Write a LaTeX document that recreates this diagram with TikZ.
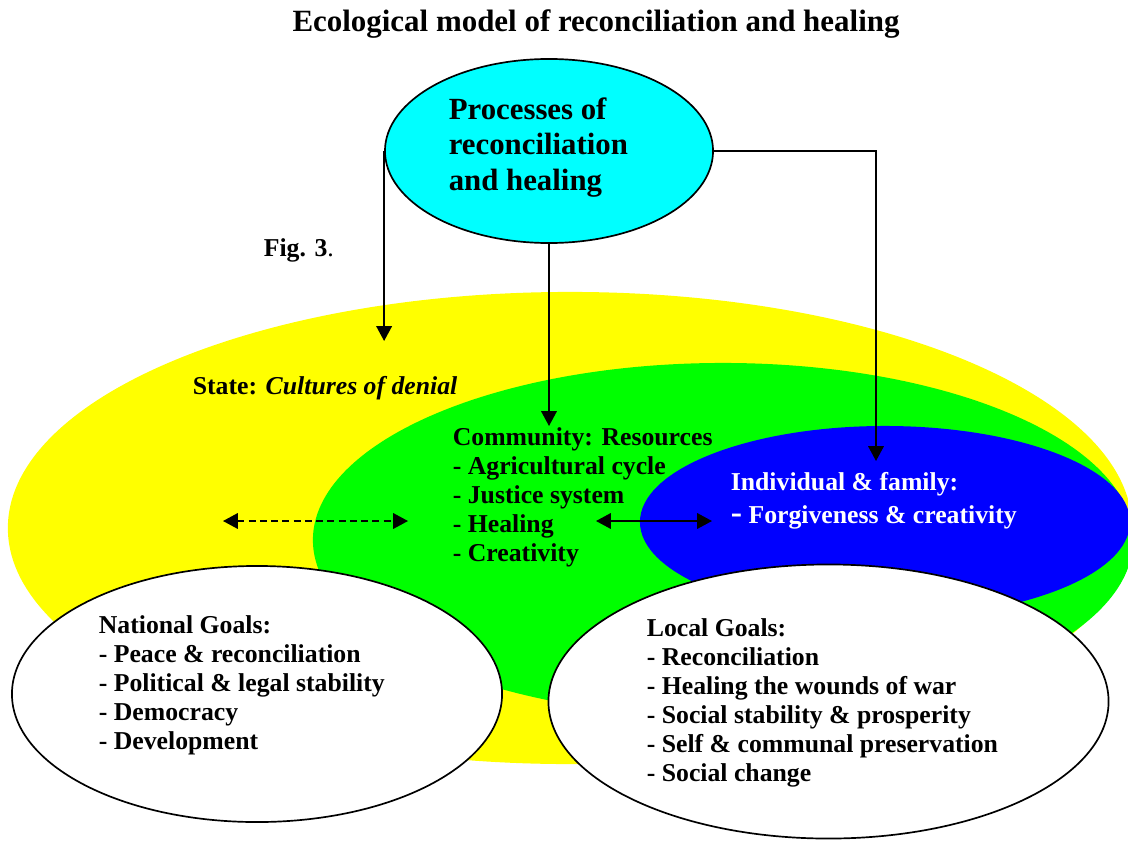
\documentclass[tikz,border=0pt]{standalone}
\usepackage{fontspec}
\setmainfont{Liberation Serif}
\usetikzlibrary{%
  arrows.meta,%
  shapes.geometric,% wg. ellipse
  positioning%
}
\definecolor{stateyellow}{RGB}{255,255,0}
\definecolor{commgreen}{RGB}{0,255,0}
\definecolor{indblue}{RGB}{0,0,255}
\definecolor{proccyan}{RGB}{0,255,255}

\begin{document}
\begin{tikzpicture}
  [
  x=0.025cm, y=-0.025cm,
  line width=1.2pt,
  draw=black, >={Triangle[length=10.5pt,width=11pt]},
  zone/.style={ellipse, inner sep=0pt, draw=none},
  goal/.style={ellipse, inner sep=0pt, draw=black, fill=white},
  txt/.style={anchor=base west, inner sep=0pt, align=left,
    font=\bfseries\fontsize{18.3}{20.6}\selectfont},
  ]
  \useasboundingbox (0,0) rectangle (1128,841);

  \node[zone, fill=stateyellow, minimum width=28.1cm, minimum height=11.8cm] (state) at (570,528) {};
  \node[zone, fill=commgreen, minimum width=20.5cm, minimum height=8.85cm] (community) at (723,540) {};
  \node[zone, fill=indblue, minimum width=12.25cm, minimum height=4.8cm] (individual) at (885,522) {};
  \node[goal, minimum width=12.25cm, minimum height=6.4cm] (national) at (257,694) {};
  \node[goal, minimum width=14cm, minimum height=6.85cm] (local) at (828.5,701.5) {};
  \node[goal, fill=proccyan, minimum width=8.2cm, minimum height=4.6cm] (processes) at (549,151) {};

  % multi-line texts sit on the baseline of their last line
  \node[anchor=base, inner sep=0pt, font=\bfseries\fontsize{22}{25}\selectfont] (title) at (596,32)
    {Ecological model of reconciliation and healing};
  \node[txt, font=\bfseries\fontsize{21.9}{24.9}\selectfont] (proctext) at (448,190)
    {Processes of\\reconciliation\\and healing};
  \node[txt] (fig) at (263,256) {Fig. 3\textmd{.}};
  \node[txt] (statetext) at (192,394) {State: \textit{Cultures of denial}};
  \node[txt] (commtext) at (452,561)
    {Community: Resources\\- Agricultural cycle\\- Justice system\\- Healing\\- Creativity};
  \node[txt, text=white] (indtext) at (730,523)
    {Individual \& family:\\[2.5pt]{\fontsize{24}{24}\selectfont -} Forgiveness \& creativity};
  \node[txt] (nattext) at (98,749)
    {National Goals:\\- Peace \& reconciliation\\- Political \& legal stability\\- Democracy\\- Development};
  \node[txt] (loctext) at (646,781)
    {Local Goals:\\- Reconciliation\\- Healing the wounds of war\\- Social stability \& prosperity\\- Self \& communal preservation\\- Social change};

  \coordinate (statein) at (386,341);
  \coordinate (commin) at (547,426);
  \coordinate (indin) at (876,461);
  \draw[->] (processes.west) -- (processes.west |- statein);
  \draw[->] (processes.south) -- (processes.south |- commin);
  \draw[->] (processes.east) -| (indin);

  \coordinate (dashl) at (223,521);
  \coordinate (dashr) at (408,521);
  \draw[<->, dash pattern=on 5pt off 3pt] (dashl) -- (dashr);
  \coordinate (linkl) at (596,521);
  \coordinate (linkr) at (712,521);
  \draw[<->] (linkl) -- (linkr);
\end{tikzpicture}
\end{document}
